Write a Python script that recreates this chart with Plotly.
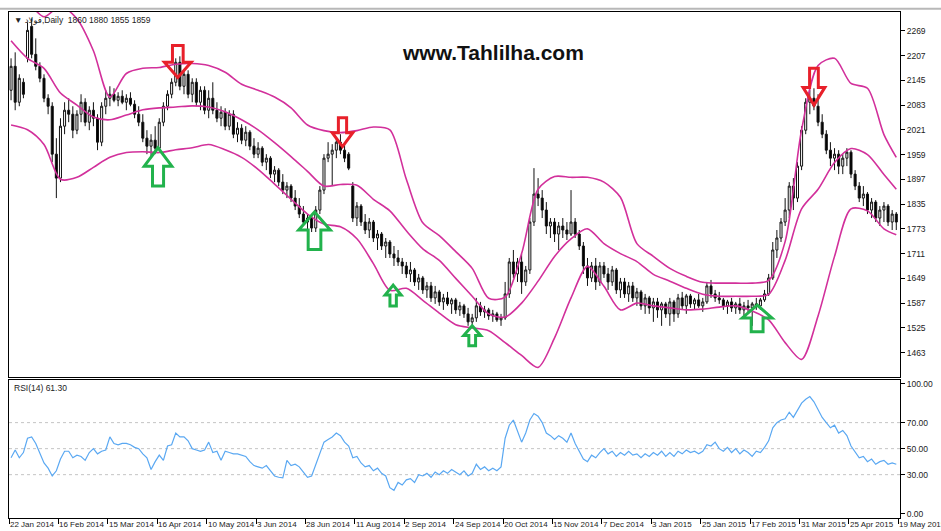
import plotly.graph_objects as go

# ---------------- data ----------------
bar_index = list(range(216))

opens = [2120,2180,2090,2140,2200,2280,2210,2180,2150,2100,
         2080,1960,1900,2030,2070,2060,2020,2060,2090,2040,
         2070,2050,1990,2080,2100,2110,2095,2105,2090,2100,
         2085,2060,2040,2000,1980,1995,1975,2040,2080,2110,
         2140,2190,2130,2160,2110,2140,2090,2120,2070,2100,
         2070,2050,2065,2030,2060,2010,2025,1995,2015,1980,
         1960,1975,1940,1950,1910,1920,1890,1870,1880,1850,
         1830,1810,1790,1800,1775,1820,1870,1950,1960,1970,
         1990,1970,1960,1880,1800,1830,1790,1770,1790,1750,
         1760,1730,1740,1710,1700,1690,1680,1660,1670,1640,
         1650,1620,1630,1600,1615,1590,1600,1585,1595,1570,
         1580,1560,1540,1550,1580,1565,1570,1555,1560,1545,
         1550,1610,1690,1660,1690,1640,1670,1790,1860,1850,
         1820,1780,1790,1760,1780,1770,1760,1790,1760,1730,
         1680,1650,1680,1640,1680,1660,1640,1670,1620,1640,
         1610,1630,1600,1615,1580,1600,1575,1590,1570,1585,
         1560,1590,1560,1600,1580,1605,1585,1595,1580,1590,
         1630,1610,1600,1595,1580,1590,1575,1585,1570,1580,
         1575,1585,1580,1595,1610,1650,1720,1750,1790,1820,
         1880,1850,1930,2020,2090,2100,2080,2040,2010,1970,
         1950,1960,1930,1950,1965,1910,1880,1850,1860,1820,
         1840,1800,1820,1830,1790,1810]
highs = [2200,2215,2160,2150,2290,2300,2250,2190,2160,2110,
         2090,2000,2050,2090,2100,2080,2070,2110,2100,2080,
         2090,2060,2090,2120,2130,2125,2115,2120,2110,2115,
         2095,2080,2060,2020,2010,2030,2050,2090,2120,2150,
         2200,2205,2170,2170,2150,2150,2130,2130,2120,2140,
         2090,2080,2075,2070,2070,2040,2035,2030,2020,2000,
         1990,1980,1960,1955,1930,1925,1910,1890,1885,1870,
         1850,1830,1810,1805,1830,1880,1960,1990,1985,2000,
         2010,1990,1965,1890,1840,1835,1810,1800,1795,1770,
         1765,1750,1745,1730,1720,1700,1690,1690,1675,1660,
         1655,1640,1640,1630,1620,1610,1615,1600,1600,1590,
         1585,1575,1560,1600,1590,1580,1575,1570,1565,1560,
         1640,1700,1720,1700,1710,1680,1800,1925,1900,1870,
         1840,1800,1800,1790,1800,1790,1870,1800,1770,1740,
         1700,1690,1700,1690,1690,1675,1680,1675,1650,1650,
         1640,1640,1625,1620,1610,1605,1600,1600,1590,1590,
         1600,1595,1610,1615,1610,1610,1600,1610,1600,1640,
         1645,1620,1615,1600,1595,1600,1590,1600,1590,1595,
         1590,1600,1600,1620,1660,1740,1770,1800,1850,1890,
         1900,1940,2030,2100,2120,2125,2110,2060,2020,1990,
         1975,1970,1960,1975,1970,1920,1890,1880,1865,1850,
         1845,1830,1840,1835,1820,1815]
lows = [2095,2070,2080,2100,2190,2200,2170,2140,2090,2060,
        1940,1850,1890,2010,2040,2000,2010,2040,2030,2020,
        2030,1970,1980,2060,2080,2090,2080,2085,2070,2080,
        2050,2030,1990,1960,1950,1960,1970,2030,2070,2100,
        2130,2120,2110,2100,2090,2080,2070,2060,2050,2060,
        2040,2030,2020,2020,2000,1990,1985,1980,1970,1950,
        1950,1930,1920,1900,1890,1880,1860,1850,1840,1820,
        1800,1780,1770,1765,1765,1810,1860,1940,1880,1950,
        1960,1940,1920,1790,1780,1780,1760,1750,1740,1720,
        1720,1700,1700,1680,1680,1660,1650,1640,1630,1620,
        1610,1600,1590,1585,1580,1570,1580,1560,1560,1555,
        1550,1530,1525,1540,1555,1550,1545,1540,1540,1530,
        1545,1600,1650,1640,1610,1630,1660,1780,1830,1800,
        1760,1750,1740,1720,1750,1745,1755,1750,1720,1660,
        1630,1640,1620,1630,1650,1620,1630,1610,1600,1600,
        1590,1590,1580,1570,1560,1560,1540,1550,1530,1550,
        1530,1540,1550,1570,1560,1575,1570,1575,1565,1585,
        1600,1590,1585,1570,1560,1565,1560,1560,1555,1560,
        1530,1570,1570,1590,1605,1645,1700,1740,1780,1800,
        1820,1840,1920,2010,2060,2070,2030,2000,1960,1930,
        1920,1910,1910,1930,1900,1870,1840,1830,1810,1800,
        1790,1780,1790,1780,1770,1770]
closes = [2180,2090,2150,2110,2270,2210,2180,2150,2100,2080,
          1960,1900,2030,2070,2060,2020,2060,2090,2040,2070,
          2050,1990,2080,2100,2110,2095,2105,2090,2100,2085,
          2060,2040,2000,1980,1995,1975,2040,2080,2110,2140,
          2190,2130,2160,2110,2140,2090,2120,2070,2100,2070,
          2050,2065,2030,2060,2010,2025,1995,2015,1980,1960,
          1975,1940,1950,1910,1920,1890,1870,1880,1850,1830,
          1810,1790,1800,1775,1820,1870,1950,1960,1970,1990,
          1970,1950,1925,1800,1830,1790,1770,1790,1750,1760,
          1730,1740,1710,1700,1690,1680,1660,1670,1640,1650,
          1620,1630,1600,1615,1590,1600,1585,1595,1570,1580,
          1560,1540,1550,1580,1565,1570,1555,1560,1545,1550,
          1610,1690,1660,1690,1640,1670,1790,1860,1850,1820,
          1780,1790,1760,1780,1770,1760,1790,1760,1730,1680,
          1650,1680,1640,1680,1660,1640,1670,1620,1640,1610,
          1630,1600,1615,1580,1600,1575,1590,1570,1585,1560,
          1590,1560,1600,1580,1605,1585,1595,1580,1590,1630,
          1610,1600,1595,1580,1590,1575,1585,1570,1580,1575,
          1585,1580,1595,1610,1650,1720,1750,1790,1820,1880,
          1850,1930,2020,2090,2100,2080,2040,2010,1970,1950,
          1960,1930,1950,1965,1910,1880,1850,1860,1820,1840,
          1800,1820,1830,1790,1810,1790]

# Bollinger bands, read every 4th bar
band_idx = [0,4,8,12,16,20,24,28,32,36,40,44,48,52,56,60,64,68,72,76,80,84,88,92,96,
            100,104,108,112,116,120,124,128,132,136,140,144,148,152,156,160,164,168,172,
            176,180,184,188,192,196,200,204,208,212,215]
bb_upper = [2360,2340,2304,2331,2299,2219,2103,2162,2175,2177,
            2185,2187,2182,2165,2135,2120,2103,2076,2033,2019,
            2014,2019,2028,2021,1897,1788,1756,1716,1674,1599,
            1602,1711,1872,1904,1902,1902,1890,1852,1736,1704,
            1674,1654,1639,1637,1637,1637,1644,1741,2021,2182,
            2200,2137,2125,2009,1952]
bb_middle = [2244,2200,2175,2113,2083,2053,2046,2058,2071,2076,
             2078,2081,2078,2066,2046,2021,1989,1954,1917,1880,
             1884,1882,1847,1818,1768,1723,1694,1649,1604,1560,
             1552,1587,1642,1704,1748,1773,1736,1711,1691,1659,
             1642,1624,1609,1604,1604,1604,1609,1694,1823,1872,
             1939,1974,1959,1909,1872]
bb_lower = [2033,2021,1984,1897,1902,1927,1952,1964,1966,1964,
            1971,1976,1984,1971,1952,1922,1885,1847,1810,1785,
            1778,1748,1686,1619,1624,1594,1562,1533,1525,1518,
            1488,1456,1426,1500,1600,1679,1629,1570,1587,1580,
            1575,1570,1572,1577,1580,1567,1545,1488,1446,1555,
            1704,1823,1818,1773,1758]

rsi = [43,49,43,47,58,59,54,46,39,35,
       29,33,42,48,48,43,45,44,41,47,
       50,46,48,49,59,54,53,54,54,53,
       51,50,46,43,34,40,45,41,52,53,
       62,59,59,56,50,49,48,49,55,47,
       48,41,48,47,46,46,45,44,40,37,
       36,35,37,33,29,28,27.5,41,37,38,
       36,32,28,29,38,46,55,57,59,62,
       60,55,52,43,44,39,36,37,33,35,
       31,29,20,18,24,22,26,27,24,30,
       29,31,28,32,30,33,31,34,32,30,
       33,29,31,38,34,36,33,35,33,36,
       58,68,72,63,55,62,72,77,75,70,
       62,60,57,60,58,55,62,54,48,42,
       40,45,43,47,50,46,48,44,47,45,
       48,45,46,43,46,44,47,45,48,44,
       47,44,48,46,49,47,48,46,48,53,
       52,55,50,48,51,47,50,46,49,47,
       44,48,47,51,56,66,70,72,73,78,
       74,80,85,88,90,86,80,74,70,66,
       68,62,64,60,52,47,43,44,40,42,
       38,40,41,38,39,38]

price_ticks = [2269,2207,2145,2083,2021,1959,1897,1835,1773,1711,1649,1587,1525,1463]
rsi_ticks = [0,30,50,70,100]
rsi_levels = [30,50,70]
date_labels = ["22 Jan 2014","16 Feb 2014","15 Mar 2014","16 Apr 2014","10 May 2014",
               "3 Jun 2014","28 Jun 2014","11 Aug 2014","2 Sep 2014","24 Sep 2014",
               "20 Oct 2014","15 Nov 2014","7 Dec 2014","3 Jan 2015","25 Jan 2015",
               "17 Feb 2015","31 Mar 2015","25 Apr 2015","19 May 2015"]
bars_per_label = 12

# signal arrows: bar position, tip price, length (price), width (bars), direction
arrow_bar = [40.5, 80.5, 195.0, 35.7, 73.7, 92.8, 112.0, 181.2]
arrow_tip = [2152, 1979, 2083, 1976, 1815, 1632, 1530, 1582]
arrow_len = [80, 72, 92, 96, 94, 52, 50, 67]
arrow_wid = [6.5, 5.0, 5.3, 6.7, 7.7, 3.9, 4.1, 7.2]
arrow_dir = ["down", "down", "down", "up", "up", "up", "up", "up"]

header_text = "▼ فولاد,Daily  1860 1880 1855 1859"
rsi_text = "RSI(14) 61.30"
watermark = "www.Tahlilha.com"

# ---------------- figure ----------------
FONT = "Liberation Sans, Arial, DejaVu Sans, sans-serif"
BAND = "#d2309b"
X_RANGE = [-0.5, 215.9]

fig = go.Figure()
fig.add_trace(go.Candlestick(
    x=bar_index, open=opens, high=highs, low=lows, close=closes,
    xaxis="x", yaxis="y", whiskerwidth=0,
    increasing=dict(line=dict(color="#111111", width=1), fillcolor="#ffffff"),
    decreasing=dict(line=dict(color="#111111", width=1), fillcolor="#000000"),
    showlegend=False, hoverinfo="skip"))
for band in (bb_upper, bb_middle, bb_lower):
    fig.add_trace(go.Scatter(x=band_idx, y=band, mode="lines", xaxis="x", yaxis="y",
                             line=dict(color=BAND, width=1.6, shape="spline", smoothing=0.8),
                             showlegend=False, hoverinfo="skip"))
fig.add_trace(go.Scatter(x=bar_index, y=rsi, mode="lines", xaxis="x2", yaxis="y2",
                         line=dict(color="#5aa8f2", width=1.2),
                         showlegend=False, hoverinfo="skip"))

shapes = []
for lv in rsi_levels:
    shapes.append(dict(type="line", xref="x2", yref="y2", x0=X_RANGE[0], x1=X_RANGE[1],
                       y0=lv, y1=lv, line=dict(color="#c4c4c4", width=1, dash="dot"),
                       layer="below"))
for bx, tip, ln, wd, dr in zip(arrow_bar, arrow_tip, arrow_len, arrow_wid, arrow_dir):
    sgn = 1 if dr == "down" else -1
    head = ln * 0.48
    sw = wd * 0.40
    pts = [(bx, tip), (bx - wd / 2, tip + sgn * head), (bx - sw / 2, tip + sgn * head),
           (bx - sw / 2, tip + sgn * ln), (bx + sw / 2, tip + sgn * ln),
           (bx + sw / 2, tip + sgn * head), (bx + wd / 2, tip + sgn * head)]
    path = "M " + " L ".join(f"{px},{py}" for px, py in pts) + " Z"
    color = "#e8202a" if dr == "down" else "#22b24c"
    shapes.append(dict(type="path", xref="x", yref="y", path=path,
                       line=dict(color=color, width=3), fillcolor="rgba(0,0,0,0)",
                       layer="above"))
# window frame line at the very top
shapes.append(dict(type="line", xref="paper", yref="paper", x0=-0.02, x1=1.05,
                   y0=1.0065, y1=1.0065, line=dict(color="#b8b8b8", width=2)))

annotations = [
    dict(text=header_text, xref="paper", yref="paper", x=0.003, y=1, xanchor="left",
         yanchor="top", yshift=-1, showarrow=False, font=dict(family=FONT, size=8.5, color="#222")),
    dict(text="<b>" + watermark + "</b>", xref="paper", yref="paper", x=0.5434, y=0.919,
         xanchor="center", yanchor="middle", showarrow=False,
         font=dict(family=FONT, size=21, color="#111")),
    dict(text=rsi_text, xref="paper", yref="paper", x=0.003, y=0.2736, xanchor="left",
         yanchor="top", yshift=-1, showarrow=False, font=dict(family=FONT, size=8.5, color="#222")),
]
tick_bars = [k * bars_per_label - 0.5 for k in range(len(date_labels))]
for tb, lab in zip(tick_bars, date_labels):
    annotations.append(dict(text=lab, xref="x2", yref="paper", x=tb, y=0, xanchor="left",
                            yanchor="top", xshift=-1, yshift=0, showarrow=False,
                            font=dict(family=FONT, size=8, color="#222")))

axis_common = dict(showline=True, linecolor="#000", linewidth=1, mirror=True,
                   showgrid=False, zeroline=False, fixedrange=True)
fig.update_layout(
    width=941, height=531, margin=dict(l=8, r=35, t=12, b=11),
    paper_bgcolor="#ffffff", plot_bgcolor="#ffffff",
    font=dict(family=FONT, size=8.5, color="#222"),
    showlegend=False,
    xaxis=dict(domain=[0, 1], anchor="y", range=X_RANGE, showticklabels=False, ticks="",
               rangeslider=dict(visible=False), **axis_common),
    yaxis=dict(domain=[0.2795, 1], anchor="x", range=[1403, 2316], side="right",
               tickvals=price_ticks, ticktext=[str(v) for v in price_ticks],
               ticks="outside", ticklen=4, tickcolor="#000",
               tickfont=dict(family=FONT, size=8.5, color="#222"), **axis_common),
    xaxis2=dict(domain=[0, 1], anchor="y2", range=X_RANGE, matches="x",
                tickvals=tick_bars, showticklabels=False, ticks="outside", ticklen=5,
                tickcolor="#000", rangeslider=dict(visible=False), **axis_common),
    yaxis2=dict(domain=[0, 0.2736], anchor="x2", range=[-3.3, 103.1], side="right",
                tickvals=rsi_ticks, ticktext=[f"{v:.2f}" for v in rsi_ticks],
                ticks="outside", ticklen=4, tickcolor="#000",
                tickfont=dict(family=FONT, size=8.5, color="#222"), **axis_common),
    shapes=shapes, annotations=annotations,
)

fig.write_html("out.html", include_plotlyjs=True, full_html=True,
               config={"displayModeBar": False},
               post_script="document.body.style.margin='0';document.body.style.overflow='hidden';")
